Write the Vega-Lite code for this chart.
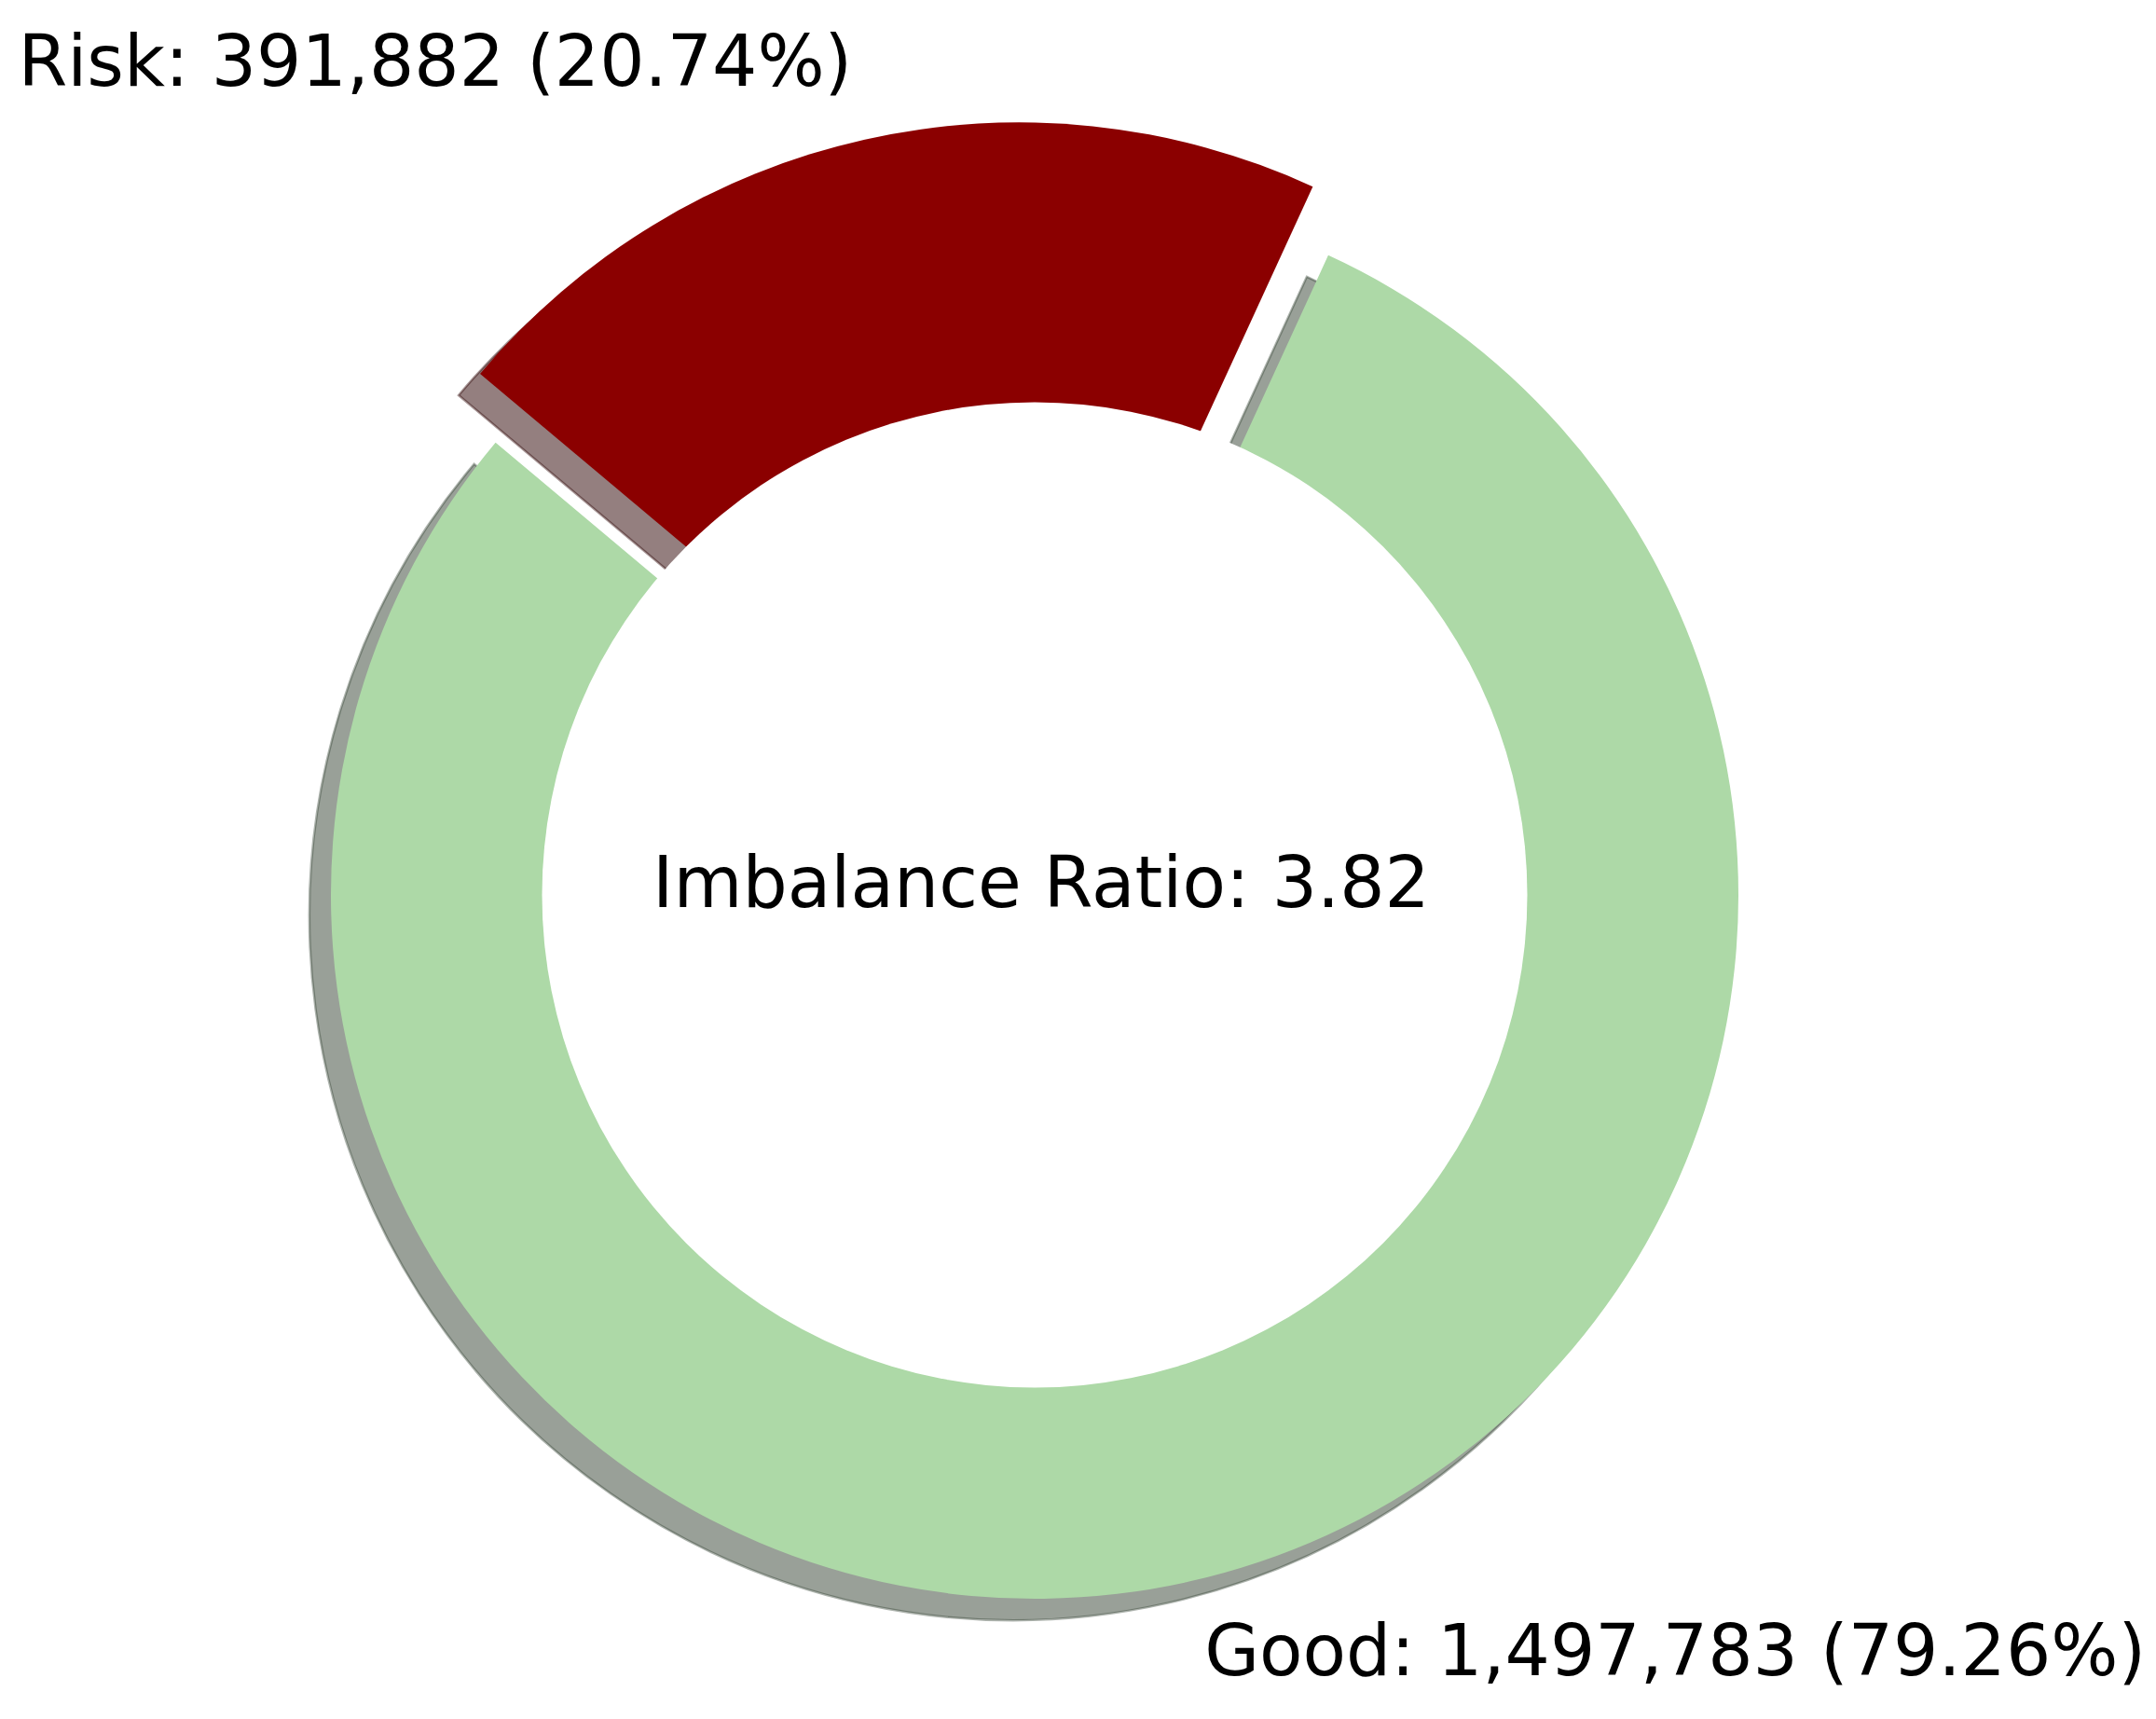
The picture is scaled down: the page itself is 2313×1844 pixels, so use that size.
{
  "$schema": "https://vega.github.io/schema/vega-lite/v6.json",
  "width": 2220,
  "height": 1768,
  "autosize": {"type": "none"},
  "padding": {"left": 0, "top": 76, "right": 93, "bottom": 0},
  "background": "white",
  "config": {"view": {"stroke": null}},
  "data": {
    "values": [
      {"category": "Risk", "value": 391882, "label": "Risk: 391,882 (20.74%)"},
      {"category": "Good", "value": 1497783, "label": "Good: 1,497,783 (79.26%)"}
    ]
  },
  "layer": [
    {
      "mark": {"type": "arc", "outerRadius": 755, "innerRadius": 0, "xOffset": -23, "yOffset": 23, "fill": "#334132", "stroke": "#334132", "strokeWidth": 2.5},
      "encoding": {
        "theta": {"field": "value", "type": "quantitative", "stack": true, "scale": {"range": [-0.872665, 5.410521]}},
        "order": {"field": "category", "type": "ordinal", "sort": "descending"},
        "fillOpacity": {"condition": {"test": "datum.category === 'Good'", "value": 0.5}, "value": 0},
        "strokeOpacity": {"condition": {"test": "datum.category === 'Good'", "value": 0.4}, "value": 0}
      }
    },
    {
      "mark": {"type": "arc", "outerRadius": 755, "innerRadius": 0, "xOffset": -39.6, "yOffset": -50.7, "fill": "#2A0000", "stroke": "#2A0000", "strokeWidth": 2.5},
      "encoding": {
        "theta": {"field": "value", "type": "quantitative", "stack": true},
        "order": {"field": "category", "type": "ordinal", "sort": "descending"},
        "fillOpacity": {"condition": {"test": "datum.category === 'Risk'", "value": 0.5}, "value": 0},
        "strokeOpacity": {"condition": {"test": "datum.category === 'Risk'", "value": 0.4}, "value": 0}
      }
    },
    {
      "mark": {"type": "arc", "outerRadius": 755, "innerRadius": 0, "fill": "#ADD9A7"},
      "encoding": {
        "theta": {"field": "value", "type": "quantitative", "stack": true},
        "order": {"field": "category", "type": "ordinal", "sort": "descending"},
        "fillOpacity": {"condition": {"test": "datum.category === 'Good'", "value": 1}, "value": 0}
      }
    },
    {
      "mark": {"type": "arc", "outerRadius": 755, "innerRadius": 0, "xOffset": -16.6, "yOffset": -73.7, "fill": "#8B0000"},
      "encoding": {
        "theta": {"field": "value", "type": "quantitative", "stack": true},
        "order": {"field": "category", "type": "ordinal", "sort": "descending"},
        "fillOpacity": {"condition": {"test": "datum.category === 'Risk'", "value": 1}, "value": 0}
      }
    },
    {
      "transform": [{"filter": "datum.category === 'Good'"}],
      "mark": {"type": "arc", "theta": 0, "theta2": 6.2832, "outerRadius": 528.5, "innerRadius": 0, "fill": "white"},
      "encoding": {}
    },
    {
      "transform": [{"filter": "datum.category === 'Good'"}],
      "mark": {"type": "text", "text": "Imbalance Ratio: 3.82", "align": "center", "baseline": "middle", "dx": 7, "dy": -10, "font": "DejaVu Sans", "fontSize": 76, "fill": "black"},
      "encoding": {}
    },
    {
      "mark": {"type": "text", "radius": 830.5, "align": "left", "baseline": "middle", "dy": 4, "font": "DejaVu Sans", "fontSize": 76, "fill": "black"},
      "encoding": {
        "theta": {"field": "value", "type": "quantitative", "stack": true},
        "order": {"field": "category", "type": "ordinal", "sort": "descending"},
        "text": {"field": "label", "type": "nominal"},
        "opacity": {"condition": {"test": "datum.category === 'Good'", "value": 1}, "value": 0}
      }
    },
    {
      "mark": {"type": "text", "radius": 906, "align": "right", "baseline": "middle", "dx": 3, "dy": -7, "font": "DejaVu Sans", "fontSize": 76, "fill": "black"},
      "encoding": {
        "theta": {"field": "value", "type": "quantitative", "stack": true},
        "order": {"field": "category", "type": "ordinal", "sort": "descending"},
        "text": {"field": "label", "type": "nominal"},
        "opacity": {"condition": {"test": "datum.category === 'Risk'", "value": 1}, "value": 0}
      }
    }
  ]
}
